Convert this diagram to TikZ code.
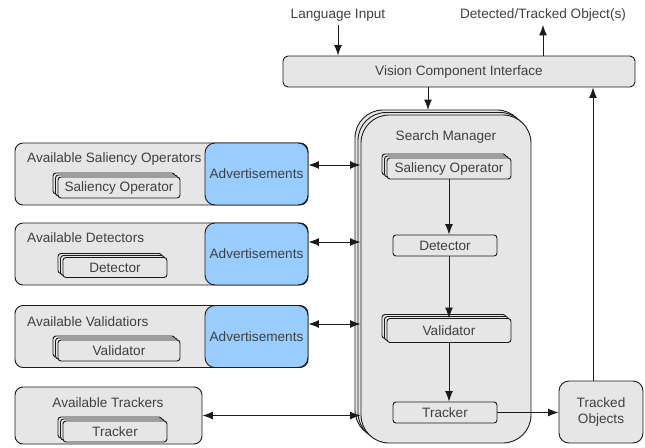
\documentclass[tikz,border=0pt]{standalone}
\usepackage{fontspec}
\setmainfont{Liberation Sans}
\usetikzlibrary{arrows.meta,shadows}
\definecolor{boxgray}{HTML}{E6E6E6}
\definecolor{adblue}{HTML}{99CCFF}
\definecolor{txt}{HTML}{404040}
\definecolor{ln}{HTML}{1A1A1A}
\begin{document}
\begin{tikzpicture}[x=1pt,y=-1pt,
  font=\fontsize{13.6}{16}\selectfont,
  every node/.append style={text=txt},
  box/.style={draw=ln, line width=0.9pt, fill=boxgray, rounded corners=#1, inner sep=0pt},
  box/.default=3pt,
  adbox/.style={draw=ln, line width=0.9pt, fill=adblue, rounded corners=10pt, inner sep=0pt,
    minimum width=103pt, minimum height=62pt},
  stack/.style={
    general shadow={shadow xshift=-5pt, shadow yshift=4pt, draw=ln, fill=boxgray, line width=0.9pt},
    general shadow={shadow xshift=-2.5pt, shadow yshift=2pt, draw=ln, fill=boxgray, line width=0.9pt}},
  bigstack/.style={
    general shadow={shadow xshift=-6pt, shadow yshift=5pt, draw=ln, fill=boxgray, line width=0.9pt},
    general shadow={shadow xshift=-3pt, shadow yshift=2.5pt, draw=ln, fill=boxgray, line width=0.9pt}},
  lbl/.style={inner sep=0pt},
  arr/.style={draw=ln, line width=1pt, -{Latex[length=10.5pt,width=8pt]}},
  darr/.style={draw=ln, line width=1pt, {Latex[length=10.5pt,width=8pt]}-{Latex[length=10.5pt,width=8pt]}}
]
\useasboundingbox (0,0) rectangle (645,447);

% top
\node (lang) at (338,15) {Language Input};
\node (detout) at (543,15) {Detected/Tracked Object(s)};
\node[box=5pt, minimum width=352pt, minimum height=31pt] (vci) at (459,71.5) {Vision Component Interface};
\draw[arr] (lang.south) -- (lang.south |- vci.north);
\draw[arr] (vci.north -| detout) -- (detout.south);

% search manager
\node[box=28pt, bigstack, minimum width=170pt, minimum height=328pt] (sm) at (446,279) {};
\coordinate (smtop) at (428,110);
\draw[arr] (vci.south -| smtop) -- (smtop);
\node (smt) at (446,137) {Search Manager};

\node[box, stack, minimum width=124pt, minimum height=21pt] (iso) at (449,168.5) {Saliency Operator};
\node[box, minimum width=104pt, minimum height=21pt] (idet) at (445,245.5) {Detector};
\node[box, stack, minimum width=124pt, minimum height=24pt] (ival) at (449,330.5) {Validator};
\node[box, minimum width=104pt, minimum height=21pt] (itr) at (445,412.5) {Tracker};
\draw[arr] (iso.south) -- (iso.south |- idet.north);
\draw[arr] (iso.south |- idet.south) -- (iso.south |- ival.north);
\draw[arr] (ival.south) -- (ival.south |- itr.north);

% tracked objects
\node[box=10pt, minimum width=84pt, minimum height=62pt, align=center] (tobj) at (601,412) {Tracked\\Objects};
\draw[arr] (itr.east) -- (itr.east -| tobj.west);
\draw[arr] ([xshift=-8pt]tobj.north) -- ([xshift=-8pt]tobj.north |- vci.south);

% left boxes
\node[box=8pt, minimum width=293pt, minimum height=62pt] (av1) at (161.5,174) {};
\node[adbox] (ad1) at (256.5,174) {Advertisements};
\node[lbl, anchor=west] (t1) at (27,159) {Available Saliency Operators};
\node[box, stack, minimum width=122pt, minimum height=21pt] (so1) at (119,187.5) {Saliency Operator};

\node[box=8pt, minimum width=293pt, minimum height=62pt] (av2) at (161.5,254) {};
\node[adbox] (ad2) at (256.5,254) {Advertisements};
\node[lbl, anchor=west] (t2) at (27,238) {Available Detectors};
\node[box, stack, minimum width=104pt, minimum height=20pt] (de2) at (115,267.5) {Detector};

\node[box=8pt, minimum width=293pt, minimum height=62pt] (av3) at (161.5,336.5) {};
\node[adbox] (ad3) at (256.5,336.5) {Advertisements};
\node[lbl, anchor=west] (t3) at (27,322) {Available Validatiors};
\node[box, stack, minimum width=122pt, minimum height=21pt] (va3) at (119,350.5) {Validator};

\node[box=8pt, minimum width=187pt, minimum height=57pt] (av4) at (108.5,415.5) {};
\node[lbl] (t4) at (108,403) {Available Trackers};
\node[box, stack, minimum width=104pt, minimum height=21pt] (tr4) at (115,431.5) {Tracker};

% connections
\draw[darr] ([yshift=9pt]ad1.east) -- ([yshift=9pt]ad1.east -| sm.west);
\draw[darr] ([yshift=12pt]ad2.east) -- ([yshift=12pt]ad2.east -| sm.west);
\draw[darr] ([yshift=12.5pt]ad3.east) -- ([yshift=12.5pt]ad3.east -| sm.west);
\draw[darr] (av4.east) -- (av4.east -| sm.west);
\end{tikzpicture}
\end{document}
